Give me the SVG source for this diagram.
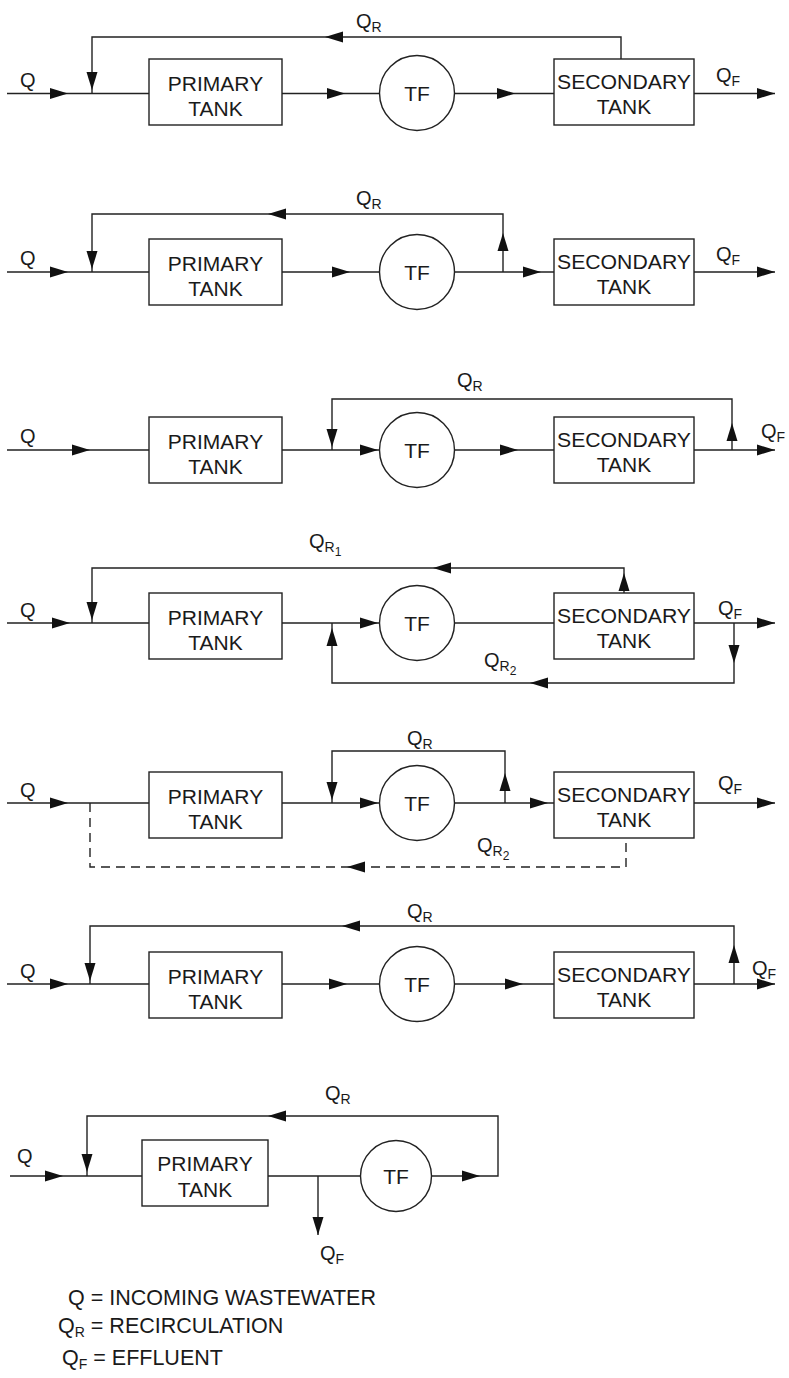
<svg xmlns="http://www.w3.org/2000/svg" xmlns:xlink="http://www.w3.org/1999/xlink" width="789" height="1378" viewBox="0 0 789 1378">
<style>
  .bg{fill:#ffffff}
  .box{fill:#ffffff;stroke:#222;stroke-width:1.4}
  .ln{fill:none;stroke:#222;stroke-width:1.4}
  .dash{fill:none;stroke:#222;stroke-width:1.4;stroke-dasharray:9 6}
  .t{font-family:"Liberation Sans",Arial,sans-serif;font-size:21px;fill:#1a1a1a;text-anchor:middle}
  .q{font-family:"Liberation Sans",Arial,sans-serif;font-size:20px;fill:#1a1a1a}
  .lg{font-family:"Liberation Sans",Arial,sans-serif;font-size:21.5px;fill:#1a1a1a}
  .s{font-size:14px}
  .s2{font-size:12px}
  .ah{fill:#111}
</style>
<defs>
  <path id="ah" class="ah" d="M0,0 L-18,-5.5 L-18,5.5 Z"/>
</defs>
<rect class="bg" x="0" y="0" width="789" height="1378"/>

<!-- ===== Connectors ===== -->
<g id="connectors">
  <!-- Diagram 1 (y=93.5) -->
  <path class="ln" d="M7,93.5 H149 M282,93.5 H379.5 M454.5,93.5 H554 M694,93.5 H775"/>
  <path class="ln" d="M621,59 V37 H92 V93.5"/>
  <use href="#ah" transform="translate(68,93.5)"/>
  <use href="#ah" transform="translate(92,90) rotate(90)"/>
  <use href="#ah" transform="translate(325,37) rotate(180)"/>
  <use href="#ah" transform="translate(345,93.5)"/>
  <use href="#ah" transform="translate(515,93.5)"/>
  <use href="#ah" transform="translate(775,93.5)"/>

  <!-- Diagram 2 (y=272) -->
  <path class="ln" d="M7,272 H149 M282,272 H379.5 M454.5,272 H554 M694,272 H775"/>
  <path class="ln" d="M503,272 V214 H92 V272"/>
  <use href="#ah" transform="translate(68,272)"/>
  <use href="#ah" transform="translate(92,269) rotate(90)"/>
  <use href="#ah" transform="translate(268,214) rotate(180)"/>
  <use href="#ah" transform="translate(503,233) rotate(-90)"/>
  <use href="#ah" transform="translate(350,272)"/>
  <use href="#ah" transform="translate(541,272)"/>
  <use href="#ah" transform="translate(775,272)"/>

  <!-- Diagram 3 (y=450) -->
  <path class="ln" d="M7,450 H149 M282,450 H379.5 M454.5,450 H554 M694,450 H775"/>
  <path class="ln" d="M732,450 V399 H332 V450"/>
  <use href="#ah" transform="translate(90,450)"/>
  <use href="#ah" transform="translate(332,447) rotate(90)"/>
  <use href="#ah" transform="translate(732,423) rotate(-90)"/>
  <use href="#ah" transform="translate(378,450)"/>
  <use href="#ah" transform="translate(518,450)"/>
  <use href="#ah" transform="translate(775,450)"/>

  <!-- Diagram 4 (y=623) -->
  <path class="ln" d="M7,623 H149 M282,623 H379.5 M454.5,623 H554 M694,623 H775"/>
  <path class="ln" d="M624,595 V568 H92 V623"/>
  <path class="ln" d="M734,623 V683 H332 V623"/>
  <use href="#ah" transform="translate(70,623)"/>
  <use href="#ah" transform="translate(92,620) rotate(90)"/>
  <use href="#ah" transform="translate(433,568) rotate(180)"/>
  <use href="#ah" transform="translate(624,573) rotate(-90)"/>
  <use href="#ah" transform="translate(332,628) rotate(-90)"/>
  <use href="#ah" transform="translate(378,623)"/>
  <use href="#ah" transform="translate(734,663) rotate(90)"/>
  <use href="#ah" transform="translate(530,683) rotate(180)"/>
  <use href="#ah" transform="translate(775,623)"/>

  <!-- Diagram 5 (y=803) -->
  <path class="ln" d="M7,803 H149 M282,803 H379.5 M454.5,803 H554 M694,803 H775"/>
  <path class="ln" d="M505,803 V751 H332 V803"/>
  <path class="dash" d="M90,803 V867 H626 V839"/>
  <use href="#ah" transform="translate(68,803)"/>
  <use href="#ah" transform="translate(332,800) rotate(90)"/>
  <use href="#ah" transform="translate(505,773) rotate(-90)"/>
  <use href="#ah" transform="translate(378,803)"/>
  <use href="#ah" transform="translate(548,803)"/>
  <use href="#ah" transform="translate(347,867) rotate(180)"/>
  <use href="#ah" transform="translate(775,803)"/>

  <!-- Diagram 6 (y=984) -->
  <path class="ln" d="M7,984 H149 M282,984 H379.5 M454.5,984 H554 M694,984 H775"/>
  <path class="ln" d="M734,984 V926 H90 V984"/>
  <use href="#ah" transform="translate(68,984)"/>
  <use href="#ah" transform="translate(90,981) rotate(90)"/>
  <use href="#ah" transform="translate(342,926) rotate(180)"/>
  <use href="#ah" transform="translate(734,945) rotate(-90)"/>
  <use href="#ah" transform="translate(347,984)"/>
  <use href="#ah" transform="translate(523,984)"/>
  <use href="#ah" transform="translate(775,984)"/>

  <!-- Diagram 7 (y=1176) -->
  <path class="ln" d="M10,1176 H142 M268,1176 H360.5 M431.5,1176 H498 V1116 H87 V1176"/>
  <path class="ln" d="M318,1176 V1235"/>
  <use href="#ah" transform="translate(63,1176)"/>
  <use href="#ah" transform="translate(87,1172) rotate(90)"/>
  <use href="#ah" transform="translate(268,1116) rotate(180)"/>
  <use href="#ah" transform="translate(480,1176)"/>
  <use href="#ah" transform="translate(318,1235) rotate(90)"/>
</g>

<!-- ===== Diagram 1 ===== -->
<g id="d1-primary"><rect class="box" x="149" y="59" width="133" height="66"/><text class="t" x="215.5" y="91">PRIMARY</text><text class="t" x="215.5" y="116">TANK</text></g>
<g id="d1-tf"><circle class="box" cx="417" cy="93" r="37.5"/><text class="t" x="417" y="101">TF</text></g>
<g id="d1-secondary"><rect class="box" x="554" y="59" width="140" height="66"/><text class="t" x="624" y="89" textLength="134" lengthAdjust="spacingAndGlyphs">SECONDARY</text><text class="t" x="624" y="114">TANK</text></g>
<g id="d1-labels">
  <text class="q" x="20" y="87">Q</text>
  <text class="q" x="356" y="28">Q<tspan class="s" dy="4">R</tspan></text>
  <text class="q" x="716" y="82">Q<tspan class="s" dy="4">F</tspan></text>
</g>

<!-- ===== Diagram 2 ===== -->
<g id="d2-primary"><rect class="box" x="149" y="239" width="133" height="66"/><text class="t" x="215.5" y="271">PRIMARY</text><text class="t" x="215.5" y="296">TANK</text></g>
<g id="d2-tf"><circle class="box" cx="417" cy="272" r="37.5"/><text class="t" x="417" y="280">TF</text></g>
<g id="d2-secondary"><rect class="box" x="554" y="239" width="140" height="66"/><text class="t" x="624" y="269" textLength="134" lengthAdjust="spacingAndGlyphs">SECONDARY</text><text class="t" x="624" y="294">TANK</text></g>
<g id="d2-labels">
  <text class="q" x="20" y="265">Q</text>
  <text class="q" x="356" y="205">Q<tspan class="s" dy="4">R</tspan></text>
  <text class="q" x="716" y="261">Q<tspan class="s" dy="4">F</tspan></text>
</g>

<!-- ===== Diagram 3 ===== -->
<g id="d3-primary"><rect class="box" x="149" y="417" width="133" height="66"/><text class="t" x="215.5" y="449">PRIMARY</text><text class="t" x="215.5" y="474">TANK</text></g>
<g id="d3-tf"><circle class="box" cx="417" cy="450" r="37.5"/><text class="t" x="417" y="458">TF</text></g>
<g id="d3-secondary"><rect class="box" x="554" y="417" width="140" height="66"/><text class="t" x="624" y="447" textLength="134" lengthAdjust="spacingAndGlyphs">SECONDARY</text><text class="t" x="624" y="472">TANK</text></g>
<g id="d3-labels">
  <text class="q" x="20" y="443">Q</text>
  <text class="q" x="457" y="387">Q<tspan class="s" dy="4">R</tspan></text>
  <text class="q" x="761" y="438">Q<tspan class="s" dy="4">F</tspan></text>
</g>

<!-- ===== Diagram 4 ===== -->
<g id="d4-primary"><rect class="box" x="149" y="593" width="133" height="66"/><text class="t" x="215.5" y="625">PRIMARY</text><text class="t" x="215.5" y="650">TANK</text></g>
<g id="d4-tf"><circle class="box" cx="417" cy="623" r="37.5"/><text class="t" x="417" y="631">TF</text></g>
<g id="d4-secondary"><rect class="box" x="554" y="593" width="140" height="66"/><text class="t" x="624" y="623" textLength="134" lengthAdjust="spacingAndGlyphs">SECONDARY</text><text class="t" x="624" y="648">TANK</text></g>
<g id="d4-labels">
  <text class="q" x="20" y="617">Q</text>
  <text class="q" x="309" y="548">Q<tspan class="s" dy="4">R</tspan><tspan class="s2" dy="4">1</tspan></text>
  <text class="q" x="484" y="667">Q<tspan class="s" dy="4">R</tspan><tspan class="s2" dy="4">2</tspan></text>
  <text class="q" x="718" y="615">Q<tspan class="s" dy="4">F</tspan></text>
</g>

<!-- ===== Diagram 5 ===== -->
<g id="d5-primary"><rect class="box" x="149" y="772" width="133" height="66"/><text class="t" x="215.5" y="804">PRIMARY</text><text class="t" x="215.5" y="829">TANK</text></g>
<g id="d5-tf"><circle class="box" cx="417" cy="803" r="37.5"/><text class="t" x="417" y="811">TF</text></g>
<g id="d5-secondary"><rect class="box" x="554" y="772" width="140" height="66"/><text class="t" x="624" y="802" textLength="134" lengthAdjust="spacingAndGlyphs">SECONDARY</text><text class="t" x="624" y="827">TANK</text></g>
<g id="d5-labels">
  <text class="q" x="20" y="797">Q</text>
  <text class="q" x="407" y="745">Q<tspan class="s" dy="4">R</tspan></text>
  <text class="q" x="477" y="852">Q<tspan class="s" dy="4">R</tspan><tspan class="s2" dy="4">2</tspan></text>
  <text class="q" x="718" y="790">Q<tspan class="s" dy="4">F</tspan></text>
</g>

<!-- ===== Diagram 6 ===== -->
<g id="d6-primary"><rect class="box" x="149" y="952" width="133" height="66"/><text class="t" x="215.5" y="984">PRIMARY</text><text class="t" x="215.5" y="1009">TANK</text></g>
<g id="d6-tf"><circle class="box" cx="417" cy="984" r="37.5"/><text class="t" x="417" y="992">TF</text></g>
<g id="d6-secondary"><rect class="box" x="554" y="952" width="140" height="66"/><text class="t" x="624" y="982" textLength="134" lengthAdjust="spacingAndGlyphs">SECONDARY</text><text class="t" x="624" y="1007">TANK</text></g>
<g id="d6-labels">
  <text class="q" x="20" y="978">Q</text>
  <text class="q" x="407" y="918">Q<tspan class="s" dy="4">R</tspan></text>
  <text class="q" x="752" y="975">Q<tspan class="s" dy="4">F</tspan></text>
</g>

<!-- ===== Diagram 7 ===== -->
<g id="d7-primary"><rect class="box" x="142" y="1140" width="126" height="66"/><text class="t" x="205" y="1171">PRIMARY</text><text class="t" x="205" y="1197">TANK</text></g>
<g id="d7-tf"><circle class="box" cx="396" cy="1176" r="35.5"/><text class="t" x="396" y="1184">TF</text></g>
<g id="d7-labels">
  <text class="q" x="17" y="1163">Q</text>
  <text class="q" x="325" y="1100">Q<tspan class="s" dy="4">R</tspan></text>
  <text class="q" x="320" y="1260">Q<tspan class="s" dy="4">F</tspan></text>
</g>

<!-- ===== Legend ===== -->
<g id="legend">
  <text class="lg" x="68" y="1305">Q = INCOMING WASTEWATER</text>
  <text class="lg" x="58" y="1333">Q<tspan class="s" dy="4">R</tspan><tspan dy="-4"> = RECIRCULATION</tspan></text>
  <text class="lg" x="62" y="1365">Q<tspan class="s" dy="4">F</tspan><tspan dy="-4"> = EFFLUENT</tspan></text>
</g>
</svg>
